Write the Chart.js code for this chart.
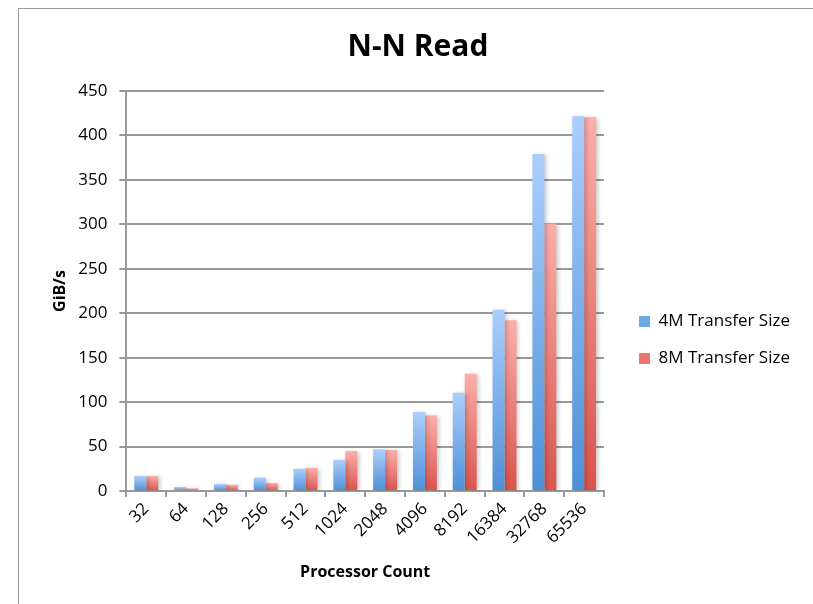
<!DOCTYPE html>
<html>
<head>
<meta charset="utf-8">
<script src="https://cdn.jsdelivr.net/npm/chart.js@4.4.1/dist/chart.umd.min.js"></script>
<style>
    html, body { margin: 0; padding: 0; background: #fff; }
    #wrap { position: relative; width: 813px; height: 604px; overflow: hidden; }
    #frame { position: absolute; left: 18px; top: 8px; width: 820px; height: 620px; border: 1px solid #9a9a9a; box-sizing: border-box; }
    canvas { position: absolute; left: 0; top: 0; }
</style>
</head>
<body>
<div id="wrap">
    <div id="frame"></div>
    <canvas id="chart" width="813" height="604"></canvas>
</div>
<script>
// processor counts on the x axis
const processorCounts = ['32', '64', '128', '256', '512', '1024', '2048', '4096', '8192', '16384', '32768', '65536'];
// read bandwidth in GiB/s
const transfer4M = [17, 4.5, 8, 15, 25, 35, 47, 89, 110.5, 204, 379, 421.5];
const transfer8M = [17, 3, 7, 9, 26, 45, 46, 85, 132, 192, 301, 420.5];
const seriesNames = ['4M Transfer Size', '8M Transfer Size'];
const yTicks = [0, 50, 100, 150, 200, 250, 300, 350, 400, 450];

const FONT = '"Open Sans", sans-serif';

// each bar gets its own top-to-bottom gradient, like the original
function barGradient(light, dark) {
    return function(context) {
        const chart = context.chart;
        const yScale = chart.scales.y;
        if (!yScale || context.raw === undefined) return dark;
        const top = yScale.getPixelForValue(context.raw);
        const bottom = yScale.getPixelForValue(0);
        if (!isFinite(top) || !isFinite(bottom) || top === bottom) return dark;
        const g = chart.ctx.createLinearGradient(0, top, 0, bottom);
        g.addColorStop(0, light);
        g.addColorStop(1, dark);
        return g;
    };
}

// soft shadow to the right of the bars
const barShadow = {
    id: 'barShadow',
    beforeDatasetsDraw(chart) {
        const ctx = chart.ctx;
        ctx.save();
        ctx.shadowColor = 'rgba(0,0,0,0.22)';
        ctx.shadowBlur = 4;
        ctx.shadowOffsetX = 2;
        ctx.shadowOffsetY = 1;
    },
    afterDatasetsDraw(chart) {
        chart.ctx.restore();
    }
};

// nudge the legend a bit right and down, where the original has it
const legendNudge = {
    id: 'legendNudge',
    afterLayout(chart) {
        const lg = chart.legend;
        if (!lg) return;
        lg.left += 15;
        lg.right += 15;
        lg.top += 45;
        lg.bottom += 45;
    }
};

const ctx = document.getElementById('chart').getContext('2d');
new Chart(ctx, {
    type: 'bar',
    data: {
        labels: processorCounts,
        datasets: [
            {
                label: seriesNames[0],
                data: transfer4M,
                backgroundColor: barGradient('#abcefd', '#4d90d8'),
                borderWidth: 0,
                categoryPercentage: 0.6,
                barPercentage: 1.0
            },
            {
                label: seriesNames[1],
                data: transfer8M,
                backgroundColor: barGradient('#fdaeab', '#d9544c'),
                borderWidth: 0,
                categoryPercentage: 0.6,
                barPercentage: 1.0
            }
        ]
    },
    plugins: [barShadow, legendNudge],
    options: {
        responsive: false,
        animation: false,
        layout: {
            padding: { left: 51, right: 28, top: 8, bottom: 22 }
        },
        scales: {
            x: {
                grid: {
                    drawOnChartArea: false,
                    drawTicks: true,
                    tickLength: 6,
                    color: '#9a9a9a',
                    lineWidth: 2
                },
                border: { display: true, color: '#9a9a9a', width: 2 },
                ticks: {
                    color: '#000',
                    font: { family: FONT, size: 17 },
                    maxRotation: 45,
                    minRotation: 45,
                    padding: 2
                },
                title: {
                    display: true,
                    text: 'Processor Count',
                    color: '#000',
                    font: { family: FONT, size: 16, weight: 'bold' },
                    padding: { top: 13, bottom: 0 }
                }
            },
            y: {
                min: 0,
                max: 450,
                afterBuildTicks(axis) {
                    axis.ticks = yTicks.map(v => ({ value: v }));
                },
                grid: {
                    color: '#9a9a9a',
                    lineWidth: 2,
                    tickLength: 7
                },
                border: { display: true, color: '#9a9a9a', width: 2 },
                ticks: {
                    color: '#000',
                    font: { family: FONT, size: 17 },
                    padding: 12
                },
                title: {
                    display: true,
                    text: 'GiB/s',
                    color: '#000',
                    font: { family: FONT, size: 16, weight: 'bold' },
                    padding: { top: 0, bottom: -4 }
                }
            }
        },
        plugins: {
            title: {
                display: true,
                text: 'N-N Read',
                color: '#000',
                font: { family: FONT, size: 30, weight: 'bold' },
                padding: { top: 21, bottom: 26 }
            },
            legend: {
                position: 'right',
                labels: {
                    color: '#000',
                    font: { family: FONT, size: 17 },
                    boxWidth: 11,
                    boxHeight: 11,
                    padding: 20,
                    generateLabels(chart) {
                        const fills = ['#6ea6e6', '#eb7670'];
                        return chart.data.datasets.map((ds, i) => ({
                            text: ds.label,
                            fillStyle: fills[i],
                            strokeStyle: fills[i],
                            lineWidth: 0,
                            hidden: false,
                            datasetIndex: i
                        }));
                    }
                }
            },
            tooltip: { enabled: false }
        }
    }
});
</script>
</body>
</html>
